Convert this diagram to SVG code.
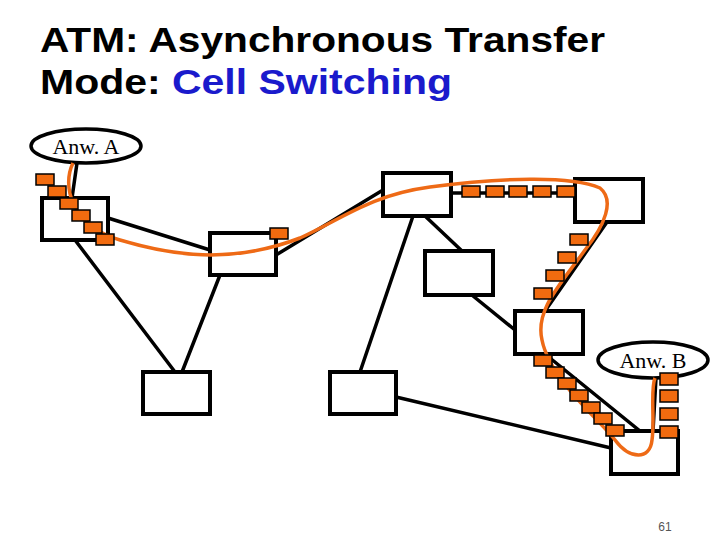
<svg xmlns="http://www.w3.org/2000/svg" width="720" height="540" viewBox="0 0 720 540">
<style>
.t{font-family:"Liberation Sans",Arial,sans-serif;font-weight:bold;font-size:35px;fill:#000}
.b{fill:#fff;stroke:#000;stroke-width:4}
.e{fill:#fff;stroke:#000;stroke-width:3.5}
.l{stroke:#000;stroke-width:3.5;fill:none}
.c{fill:#f26b0f;stroke:#000;stroke-width:1.5}
.n{font-family:"Liberation Serif","Times New Roman",serif;font-size:22px;fill:#000}
</style>
<rect width="720" height="540" fill="#fff"/>
<text class="t" x="40" y="52" textLength="565" lengthAdjust="spacingAndGlyphs">ATM: Asynchronous Transfer</text>
<text class="t" x="40" y="94" textLength="412" lengthAdjust="spacingAndGlyphs">Mode: <tspan fill="#1a1acc">Cell Switching</tspan></text>
<g id="connectors">
<path class="l" d="M77,163 L72,198 M108,218 L210,250 M75,240 L175,372 M220,275 L182,372 M276,255 L383,190 M413,216 L360,372 M425,216 L462,251 M462,287 L515,330 M607,222 L545,311 M545,354 L640,431 L653,431 L656,378 M396,397 L611,448 M451,193 L575,193"/>
</g>
<g id="boxA"><rect class="b" x="42" y="198" width="66" height="42"/></g>
<g id="boxB"><rect class="b" x="210" y="233" width="66" height="42"/></g>
<g id="boxC"><rect class="b" x="383" y="173" width="68" height="43"/></g>
<g id="boxD"><rect class="b" x="575" y="179" width="68" height="43"/></g>
<g id="boxE"><rect class="b" x="425" y="251" width="68" height="44"/></g>
<g id="boxF"><rect class="b" x="515" y="311" width="68" height="43"/></g>
<g id="boxG"><rect class="b" x="143" y="372" width="67" height="42"/></g>
<g id="boxH"><rect class="b" x="330" y="372" width="66" height="42"/></g>
<g id="boxI"><rect class="b" x="611" y="431" width="67" height="43"/></g>
<g id="anwA"><ellipse class="e" cx="86" cy="146" rx="55" ry="17"/><text class="n" x="86" y="154" text-anchor="middle">Anw. A</text></g>
<g id="anwB"><ellipse class="e" cx="653" cy="360" rx="55" ry="18"/><text class="n" x="653" y="368" text-anchor="middle">Anw. B</text></g>
<g id="path">
<path d="M73,163 C62,185 70,225 120,240 C170,255 230,265 300,238 C340,220 370,195 430,187 C500,178 570,175 600,188 C615,200 605,225 585,250 C560,285 535,310 542,340 C550,380 600,420 615,440 C630,460 650,460 652,440 C655,420 650,390 655,378" fill="none" stroke="#ee6a16" stroke-width="3.5"/>
</g>
<g id="cells">
<rect class="c" x="36" y="174" width="18" height="11"/>
<rect class="c" x="48" y="186" width="18" height="11"/>
<rect class="c" x="60" y="198" width="18" height="11"/>
<rect class="c" x="72" y="210" width="18" height="11"/>
<rect class="c" x="84" y="222" width="18" height="11"/>
<rect class="c" x="96" y="234" width="18" height="11"/>
<rect class="c" x="270" y="228" width="18" height="11"/>
<rect class="c" x="462" y="186" width="18" height="11"/>
<rect class="c" x="486" y="186" width="18" height="11"/>
<rect class="c" x="509" y="186" width="18" height="11"/>
<rect class="c" x="533" y="186" width="18" height="11"/>
<rect class="c" x="557" y="186" width="18" height="11"/>
<rect class="c" x="570" y="234" width="18" height="11"/>
<rect class="c" x="558" y="252" width="18" height="11"/>
<rect class="c" x="546" y="270" width="18" height="11"/>
<rect class="c" x="534" y="288" width="18" height="11"/>
<rect class="c" x="534" y="355" width="18" height="11"/>
<rect class="c" x="546" y="367" width="18" height="11"/>
<rect class="c" x="558" y="378" width="18" height="11"/>
<rect class="c" x="570" y="390" width="18" height="11"/>
<rect class="c" x="582" y="402" width="18" height="11"/>
<rect class="c" x="594" y="413" width="18" height="11"/>
<rect class="c" x="606" y="425" width="18" height="11"/>
<rect class="c" x="660" y="373" width="18" height="12"/>
<rect class="c" x="660" y="390" width="18" height="12"/>
<rect class="c" x="660" y="408" width="18" height="12"/>
<rect class="c" x="660" y="426" width="18" height="12"/>
</g>
<text x="665" y="531" font-family="Liberation Sans,Arial,sans-serif" font-size="12" fill="#555" text-anchor="middle">61</text>
</svg>
